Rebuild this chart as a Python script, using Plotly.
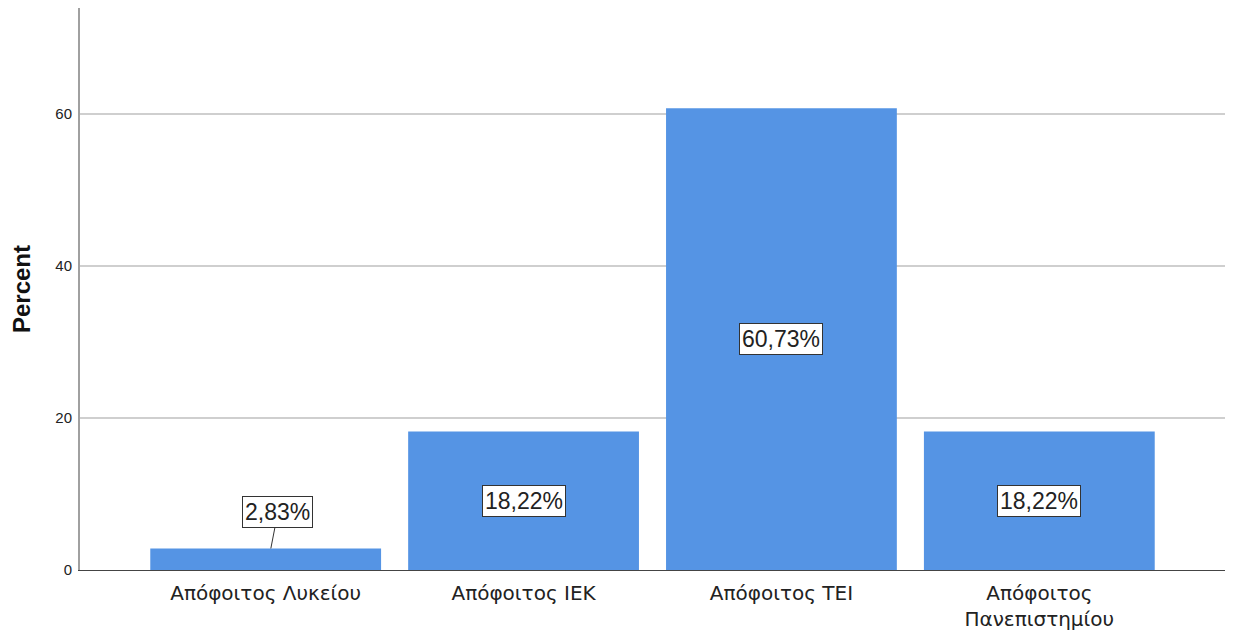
import plotly.graph_objects as go

categories = ["Απόφοιτος Λυκείου", "Απόφοιτος ΙΕΚ", "Απόφοιτος ΤΕΙ", "Απόφοιτος<br>Πανεπιστημίου"]
percents = [2.83, 18.22, 60.73, 18.22]
labels = ["2,83%", "18,22%", "60,73%", "18,22%"]
y_ticks = [0, 20, 40, 60]

fig = go.Figure()
fig.add_trace(go.Bar(
    x=list(range(len(categories))), y=percents,
    width=0.895,
    marker=dict(color="#5594e4", line=dict(width=0)),
    hoverinfo="skip",
))

# value labels: small bar gets a callout above, others sit at mid-height
box_font = dict(size=23, color="#222", family="Liberation Sans")
for i, (v, lab) in enumerate(zip(percents, labels)):
    if v < 5:
        fig.add_annotation(x=i + 0.02, y=v, text=lab, showarrow=True, arrowhead=0,
                           arrowwidth=1, arrowcolor="#333", ax=7, ay=-36,
                           bgcolor="white", bordercolor="#333", borderwidth=1, borderpad=2,
                           font=box_font)
    else:
        fig.add_annotation(x=i, y=v / 2, text=lab, showarrow=False,
                           bgcolor="white", bordercolor="#333", borderwidth=1, borderpad=2,
                           font=box_font)

# the page body adds an 8px offset, so the figure is sized to fit the window
fig.update_layout(
    width=1225, height=626,
    margin=dict(l=72, r=8, t=0, b=64),
    paper_bgcolor="white", plot_bgcolor="white",
    showlegend=False,
    font=dict(family="Liberation Sans", color="#222"),
)
fig.update_xaxes(
    range=[-0.72, 3.72], tickvals=list(range(len(categories))), ticktext=categories,
    tickfont=dict(size=20, color="#222", family="DejaVu Sans"), showgrid=False,
    showline=True, linecolor="#444", linewidth=1, ticks="", zeroline=False,
    ticklabelstandoff=5, automargin=False,
)
fig.update_yaxes(
    range=[0, 73.9], tickvals=y_ticks, tickfont=dict(size=15, color="#222"),
    showgrid=True, gridcolor="#cfcfcf", gridwidth=1.5,
    showline=True, linecolor="#a0a0a0", linewidth=2, ticks="", zeroline=False,
    ticklabelstandoff=3, automargin=False,
    title=dict(text="<b>Percent</b>", font=dict(size=24, color="#111"), standoff=20),
)

fig.write_html("out.html")
